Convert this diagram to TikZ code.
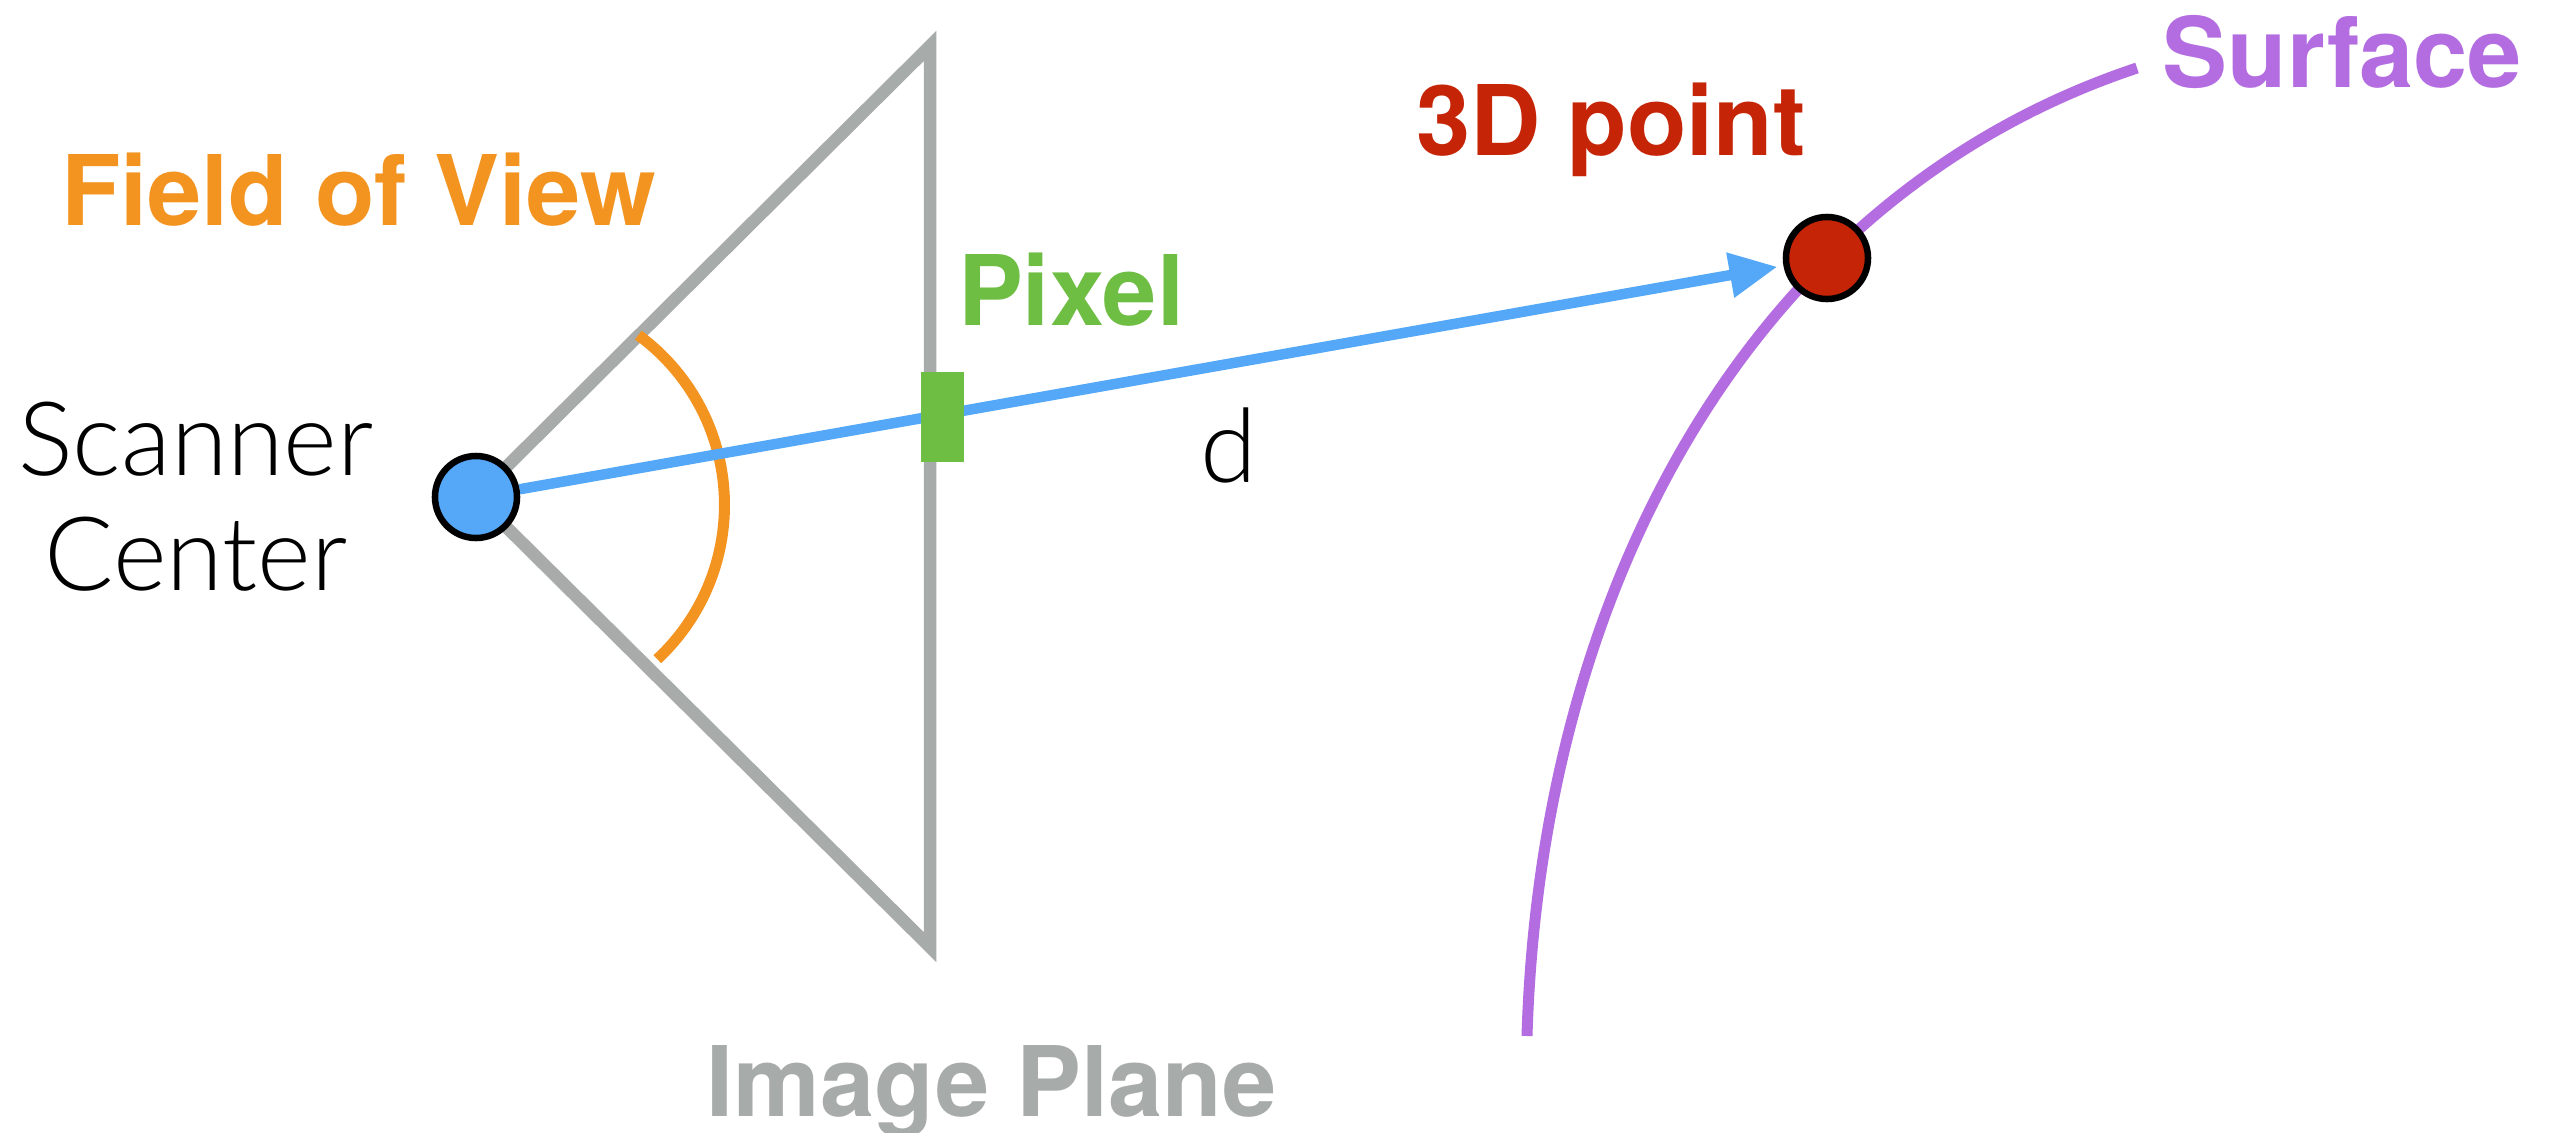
\documentclass[tikz,border=0pt]{standalone}
\usepackage{fontspec}
\setmainfont{TeX Gyre Heros}
\newfontfamily\lightfont{Lato Light}
\usetikzlibrary{arrows.meta}
\pgfdeclarelayer{back}
\pgfdeclarelayer{mid}
\pgfsetlayers{back,mid,main}
\definecolor{fovorange}{RGB}{243,147,32}
\definecolor{planegray}{RGB}{167,171,169}
\definecolor{pixgreen}{RGB}{110,190,68}
\definecolor{raysblue}{RGB}{84,168,247}
\definecolor{ptred}{RGB}{197,36,6}
\definecolor{surfpurple}{RGB}{179,109,225}
\begin{document}
\begin{tikzpicture}[x=0.01cm,y=-0.01cm,
  lbl/.style={font=\fontsize{27.7}{33}\selectfont\bfseries, inner sep=0pt, anchor=base},
  thinlbl/.style={font=\lightfont\fontsize{29.2}{35}\selectfont, inner sep=0pt, anchor=base, text=black},
  ptdot/.style={circle, draw=black, line width=0.065cm, minimum size=0.82cm, inner sep=0pt},
  pixbox/.style={rectangle, fill=pixgreen, minimum width=0.43cm, minimum height=0.90cm, inner sep=0pt},
  planeline/.style={draw=planegray, line width=0.125cm, line join=miter},
  fovline/.style={draw=fovorange, line width=0.11cm},
  surfline/.style={draw=surfpurple, line width=0.11cm},
  rayline/.style={draw=raysblue, line width=0.105cm, shorten >=0.06cm,
    -{Triangle[length=0.48cm, width=0.43cm, fill=raysblue]}}
]
\useasboundingbox (0,0) rectangle (2553,1133);

% coordinates
\coordinate (apex) at (476,497);
\coordinate (top) at (930,46);
\coordinate (bot) at (930,947);
\coordinate (surfA) at (1527,1036);
\coordinate (surfB) at (2137,68);
\coordinate (fovA) at (638.3,335.1);

% nodes
\node[pixbox] (pix) at (942.5,417) {};
\node[ptdot, fill=raysblue] (scan) at (apex) {};
\node[ptdot, fill=ptred] (pt) at (1827,258) {};

% labels
\node[lbl, text=fovorange] (fov) at (358.5,225) {Field of View};
\node[thinlbl] (scA) at (196,475) {Scanner};
\node[thinlbl] (scB) at (196,590) {Center};
\node[lbl, text=pixgreen] (pixlbl) at (1071,325) {Pixel};
\node[thinlbl] (dlbl) at (1229,482) {d};
\node[lbl, text=ptred] (ptlbl) at (1611,155) {3D point};
\node[lbl, text=surfpurple] (surflbl) at (2342.5,87) {Surface};
\node[lbl, text=planegray] (planelbl) at (991.5,1116) {Image Plane};

\begin{pgfonlayer}{back}
  \fill[white] (0,0) rectangle (2553,1133);
  \draw[planeline] (apex) -- (top) -- (bot) -- cycle;
  \draw[fovline] (fovA) arc[start angle=-53.8, end angle=47.1, radius=210.5];
  \draw[surfline] (surfA) .. controls (1540.7,581) and (1755.5,195) .. (surfB);
\end{pgfonlayer}
\begin{pgfonlayer}{mid}
  \draw[rayline] (scan) -- (pt);
\end{pgfonlayer}
\end{tikzpicture}
\end{document}
